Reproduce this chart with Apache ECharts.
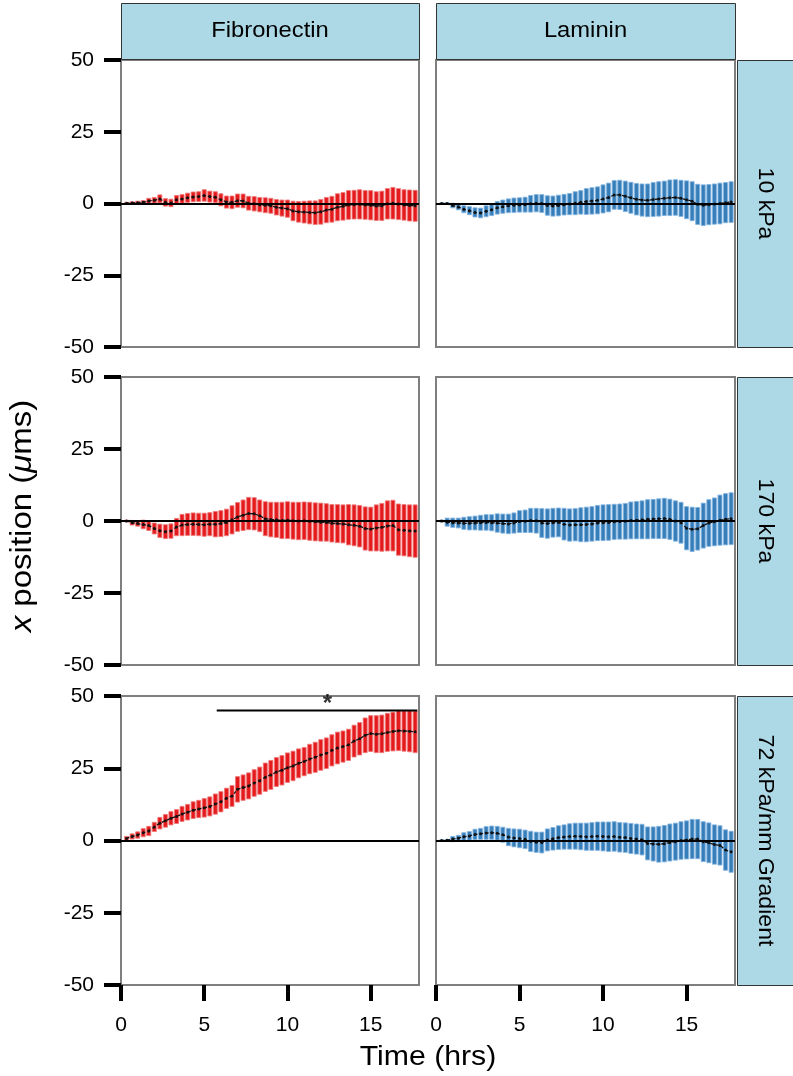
<!DOCTYPE html>
<html><head><meta charset="utf-8">
<script src="https://cdn.jsdelivr.net/npm/echarts@6/dist/echarts.min.js"></script>
<style>html,body{margin:0;padding:0;background:#fff}#c{width:793px;height:1076px}</style>
</head><body><div id="c"></div>
<script>
// ---------- data ----------
const colLabels = ['Fibronectin', 'Laminin'];
const rowLabels = ['10 kPa', '170 kPa', '72 kPa/mm Gradient'];
const xTicks = [0, 5, 10, 15];
const yTicks = [-50, -25, 0, 25, 50];
const timeMin = [20,40,60,80,100,120,140,160,180,200,220,240,260,280,300,320,340,360,380,400,420,440,460,480,500,520,540,560,580,600,620,640,660,680,700,720,740,760,780,800,820,840,860,880,900,920,940,960,980,1000,1020,1040,1060];

// Fibronectin, 10 kPa
const fn10Mean = [0.1,0.2,0.3,0.4, 0.9,1.1, 1.6, 0.4,0.2, 1.3,1.6, 2.0,2.3,2.4, 2.8, 2.4,2.2, 1.3, 0.5,0.4, 1.0,0.9, 0.1,-0.1, -0.4,-0.6,-0.8, -1.3,-1.6,-1.8, -2.6,-2.9,-3.0, -3.1,-3.2,-2.9, -2.3,-2.0, -1.3,-1.0, -0.5,-0.4,-0.3,-0.5,-0.6, -0.9,-0.8, -0.1,0.1,-0.2, -0.5,-0.7,-0.8];
const fn10Err  = [0.3,0.4,0.5,0.6, 0.9,1.0, 1.4, 1.3,1.3, 1.5,1.5, 1.6,1.7,1.7, 2.0, 1.9,1.9, 2.1, 2.1,2.2, 2.3,2.4, 2.4,2.5, 2.5,2.6,2.6, 2.7,2.8,3.0, 3.4,3.6,3.8, 4.0,4.1,4.3, 4.4,4.5, 4.7,4.8, 5.0,5.0,5.1,5.0,5.1, 5.0,5.1, 5.3,5.5,5.4, 5.3,5.4,5.4];
// Laminin, 10 kPa
const ln10Mean = [0,0, -0.7,-1.2, -2.0,-2.5, -3.1,-3.3, -2.7,-2.2, -1.5,-1.1, -0.8,-0.6,-0.5,-0.4, -0.1,0.1,0.0, -0.7,-0.9,-0.7, -0.4,-0.2, 0.1,0.4, 0.7,0.9,1.1, 1.6,2.1, 3.0,3.0, 2.5,2.0, 1.5,1.2,1.1, 1.4,1.6,1.8, 2.0,2.1,1.8, 1.3,0.8, -0.3,-0.6, -0.4,-0.2,0.0, 0.3,0.5];
const ln10Err  = [0.2,0.3, 0.8,1.0, 1.2,1.4, 1.6,1.7, 1.9,2.0, 2.2,2.3, 2.4,2.5,2.5,2.6, 2.9,3.0,3.1, 3.4,3.5,3.6, 3.6,3.7, 4.0,4.1, 4.5,4.6,4.7, 4.9,5.0, 5.0,5.1, 5.3,5.4, 5.5,5.6,5.7, 5.9,6.0,6.0, 6.2,6.2,6.3, 6.6,6.8, 7.0,7.1, 7.0,7.0,7.1, 7.0,7.1];
// Fibronectin, 170 kPa
const fn170Mean = [0, -0.6,-0.9, -1.2,-1.6, -2.6, -3.4,-3.7,-3.5, -2.1, -1.4,-1.2,-1.1,-1.2,-1.3,-1.1, -1.1,-0.9, -0.5, 0.4, 1.4, 2.0, 2.6,2.5, 1.8, 0.8,0.5,0.4, 0.2,0.3,0.1, 0.0,0.1,-0.1, -0.3,-0.4,-0.5, -0.8,-0.9,-1.0, -1.3,-1.5,-1.8, -2.6,-2.8, -2.4,-2.2, -1.7,-1.6, -3.0,-3.2, -3.4,-3.5];
const fn170Err  = [0.3, 0.8,0.9, 1.5,1.7, 1.9, 2.3,2.4,2.5, 3.0, 3.7,3.8,3.9,3.9,4.0,4.0, 4.4,4.5, 4.6, 4.9, 5.0, 5.3, 5.6,5.6, 5.5, 5.9,6.0,6.1, 6.3,6.4,6.4, 6.5,6.5,6.6, 6.6,6.6,6.5, 6.5,6.6,6.6, 7.0,7.1,7.2, 7.5,7.6, 8.0,8.3, 8.7,8.8, 8.9,8.9, 9.0,9.1];
// Laminin, 170 kPa
const ln170Mean = [0, -0.4,-0.6,-0.7, -0.8,-0.8,-0.7, -0.6,-0.5,-0.6, -0.7,-0.9,-1.0,-0.7, -0.2,-0.1, 0.2,0.1, -0.7,-0.9, -0.6,-0.5, -1.1,-1.4,-1.3, -1.3,-1.2,-1.0, -0.7,-0.6,-0.5, -0.3,-0.2,-0.1, 0.2,0.3,0.4, 0.6,0.7, 0.8,0.9,0.6, 0.0,-0.6, -2.5,-2.9, -2.7, -1.6, -0.7,-0.3, 0.3,0.6,0.8];
const ln170Err  = [0.3, 1.4,1.6,1.7, 2.1,2.3,2.4, 2.6,2.7,2.8, 3.2,3.3,3.4,3.5, 3.8,3.9, 4.2,4.3, 5.0,5.1, 5.0,5.0, 5.5,5.6,5.6, 5.9,6.0,6.0, 6.1,6.2,6.2, 6.1,6.1,6.2, 6.4,6.5,6.6, 6.8,6.8, 6.9,7.0,7.0, 7.0,7.1, 7.5,7.7, 7.4, 7.8, 8.1,8.3, 8.7,8.9,9.0];
// Fibronectin, 72 kPa/mm gradient
const fnGrMean = [0.7, 1.4,1.9, 2.7,3.3, 4.7, 6.0,6.8, 7.7,8.3, 9.2,9.8, 10.5,10.9, 11.3,11.8, 12.6,13.4, 14.6,15.4, 17.7, 18.3,18.9, 19.9,20.7, 21.9,22.7, 23.7,24.3, 25.2,25.8, 26.7,27.3, 28.2,28.8, 29.6,30.2, 31.2,32.0, 32.5,33.1, 34.4,35.2, 36.4,37.0, 36.8,36.9, 37.4,37.7, 38.0,37.9, 37.8,37.6];
const fnGrErr  = [0.7, 0.9,1.1, 1.4,1.6, 1.6, 2.0,2.2, 2.3,2.4, 2.6,2.7, 2.9,3.0, 3.2,3.3, 3.5,3.5, 3.5,3.6, 4.4, 4.4,4.5, 4.6,4.7, 4.9,5.0, 5.0,5.1, 5.1,5.1, 5.0,4.9, 5.1,5.2, 5.3,5.3, 5.4,5.5, 5.4,5.4, 5.5,5.6, 6.0,6.2, 6.4,6.5, 6.6,6.7, 6.9,7.0, 7.1,7.2];
// Laminin, 72 kPa/mm gradient
const lnGrMean = [0.0,0.1, 0.5,0.8, 1.3,1.6, 2.1,2.3, 2.6,2.7,2.5, 2.0, 1.2,0.9, 0.7,0.4, -0.3,-0.6, -0.7, 0.2,0.6, 1.0,1.2, 1.4,1.5,1.4, 1.3,1.4,1.5, 1.4,1.3,1.4, 1.1,1.0, 0.7,0.5,0.3, -1.0,-1.2, -1.3,-1.1, -0.7,-0.4, 0.0,0.2, 0.5,0.5, -0.4,-0.8, -1.4,-1.7, -3.3,-3.9];
const lnGrErr  = [0.2,0.3, 0.9,1.0, 1.4,1.5, 1.8,1.9, 2.2,2.3,2.4, 2.6, 3.0,3.1, 3.2,3.2, 3.5,3.5, 3.6, 3.8,3.9, 4.1,4.2, 4.4,4.5,4.6, 4.7,4.8,4.9, 5.0,5.1,5.1, 5.1,5.1, 5.2,5.2,5.3, 5.7,5.9, 6.2,6.3, 6.4,6.4, 6.5,6.6, 6.8,6.8, 6.9,6.9, 6.8,6.8, 7.0,7.1];

// significance bar (gradient, Fibronectin)
const sigStart = 5.75, sigEnd = 17.8, sigLevel = 45, sigStarX = 12.4, sigLabel = '*';

// ---------- layout ----------
const panels = [
  [fn10Mean, fn10Err], [ln10Mean, ln10Err],
  [fn170Mean, fn170Err], [ln170Mean, ln170Err],
  [fnGrMean, fnGrErr], [lnGrMean, lnGrErr]
];
const colX = [121, 436], colW = [298, 299];
const rowY = [60, 377, 696], rowH = [287, 288, 289];
const colColors = ['#E41A1C', '#377EB8'];
const colEdges = ['rgba(240,120,120,0.9)', 'rgba(130,180,225,0.9)'];
const FONT = '"Liberation Sans", Arial, Helvetica, sans-serif';

const grids = [], xAxes = [], yAxes = [], series = [];
for (let r = 0; r < 3; r++) {
  for (let c = 0; c < 2; c++) {
    const gi = r * 2 + c;
    grids.push({left: colX[c], top: rowY[r], width: colW[c], height: rowH[r],
      show: true, borderColor: '#7f7f7f', borderWidth: 2, backgroundColor: '#fff'});
    const bottom = r === 2;
    xAxes.push({type: 'value', gridIndex: gi, min: 0, max: 17.9, position: 'bottom',
      axisLine: {show: false, onZero: false}, splitLine: {show: false},
      axisTick: {show: bottom, length: 16, inside: false, customValues: xTicks, lineStyle: {color: '#000', width: 4}},
      axisLabel: {show: bottom, customValues: xTicks, margin: 30, fontSize: 21, color: '#000', fontFamily: FONT}});
    const left = c === 0;
    yAxes.push({type: 'value', gridIndex: gi, min: -50, max: 50, interval: 25, position: 'left',
      axisLine: {show: false, onZero: false}, splitLine: {show: false},
      axisTick: {show: left, length: 17, lineStyle: {color: '#000', width: 4}},
      axisLabel: {show: left, margin: 27, fontSize: 21, color: '#000', fontFamily: FONT}});
    const [mean, err] = panels[gi];
    const barData = timeMin.map((m, i) => [m / 60, mean[i] - err[i], mean[i] + err[i]]);
    const fill = colColors[c], edge = colEdges[c];
    series.push({type: 'custom', xAxisIndex: gi, yAxisIndex: gi, z: 2,
      encode: {x: 0, y: [1, 2]}, data: barData,
      renderItem: function (params, api) {
        const t = api.value(0), lo = api.value(1), hi = api.value(2);
        const p1 = api.coord([t, hi]), p2 = api.coord([t, lo]);
        const w = 4;
        return {type: 'rect', shape: {x: p1[0] - w / 2, y: p1[1], width: w, height: Math.max(1, p2[1] - p1[1])},
          style: {fill: fill, stroke: edge, lineWidth: 1}};
      }});
    series.push({type: 'line', xAxisIndex: gi, yAxisIndex: gi, z: 4,
      data: timeMin.map((m, i) => [m / 60, mean[i]]),
      symbol: 'circle', symbolSize: 3, showSymbol: true,
      itemStyle: {color: '#111'}, lineStyle: {color: '#111', width: 1.3, type: [3, 2.6]},
      markLine: {silent: true, symbol: 'none', label: {show: false}, animation: false,
        lineStyle: {color: '#000', width: 2, type: 'solid'}, data: [{yAxis: 0}]},
      animation: false});
  }
}
// significance line & asterisk on Fibronectin gradient panel
series.push({type: 'line', xAxisIndex: 4, yAxisIndex: 4, z: 5, symbol: 'none',
  lineStyle: {color: '#000', width: 2}, data: [[sigStart, sigLevel], [sigEnd, sigLevel]], animation: false});
series.push({type: 'scatter', xAxisIndex: 4, yAxisIndex: 4, z: 5, symbolSize: 1,
  itemStyle: {color: 'rgba(0,0,0,0)'}, data: [[sigStarX, sigLevel]],
  label: {show: true, formatter: sigLabel, position: 'top', distance: -6, fontSize: 24, color: '#000', fontFamily: FONT, fontWeight: 'bold'},
  animation: false});

// strips & titles
const graphic = [];
for (let c = 0; c < 2; c++) {
  graphic.push({type: 'rect', left: colX[c], top: 3, z: 10,
    shape: {width: colW[c], height: 56}, style: {fill: '#ADD8E6', stroke: '#333', lineWidth: 1}});
  graphic.push({type: 'text', x: colX[c] + colW[c] / 2, y: 31, z: 11, scaleX: 1.08,
    style: {text: colLabels[c], fill: '#000', font: '22px ' + FONT, textAlign: 'center', textVerticalAlign: 'middle'}});
}
for (let r = 0; r < 3; r++) {
  graphic.push({type: 'rect', left: 737, top: rowY[r], z: 10,
    shape: {width: 70, height: rowH[r]}, style: {fill: '#ADD8E6', stroke: '#333', lineWidth: 1}});
  graphic.push({type: 'text', x: 765, y: rowY[r] + rowH[r] / 2, rotation: -Math.PI / 2, z: 11, scaleX: 1.05,
    style: {text: rowLabels[r], fill: '#000', font: '22px ' + FONT, textAlign: 'center', textVerticalAlign: 'middle'}});
}
graphic.push({type: 'text', x: 428, y: 1057, z: 11, scaleX: 1.08,
  style: {text: 'Time (hrs)', fill: '#000', font: '28px ' + FONT, textAlign: 'center', textVerticalAlign: 'middle'}});
graphic.push({type: 'text', x: 23, y: 516, rotation: Math.PI / 2, z: 11, scaleX: 1.1,
  style: {text: '{i|x} position ({i|μ}ms)', fill: '#000', font: '30px ' + FONT, textAlign: 'center', textVerticalAlign: 'middle',
    rich: {i: {fontStyle: 'italic', fontSize: 30, fontFamily: FONT}}}});

const chart = echarts.init(document.getElementById('c'), null, {renderer: 'canvas'});
chart.setOption({animation: false, backgroundColor: '#fff', grid: grids, xAxis: xAxes, yAxis: yAxes, series: series, graphic: graphic});
</script></body></html>
